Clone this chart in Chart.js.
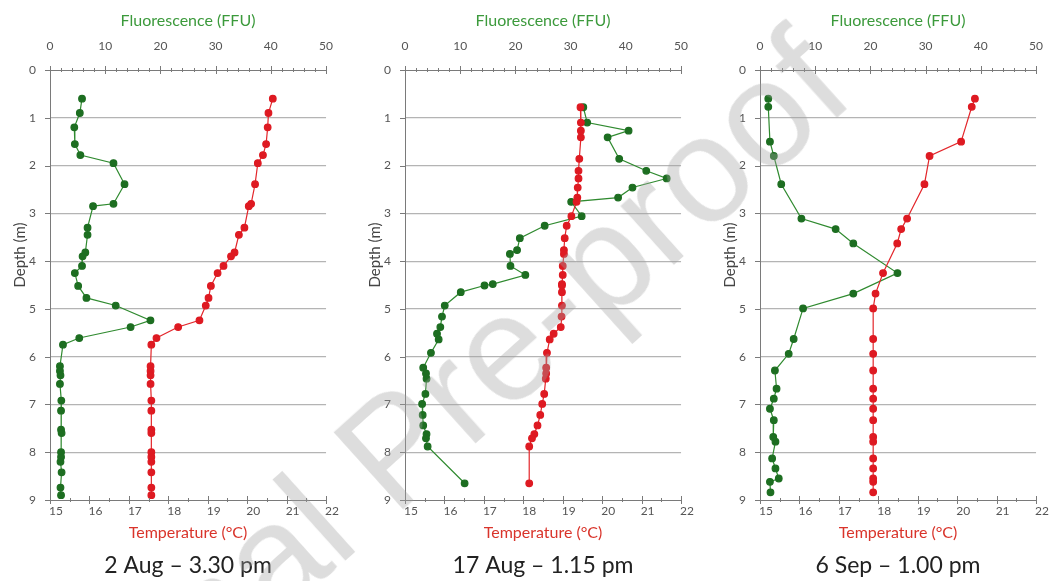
<!DOCTYPE html>
<html><head><meta charset="utf-8">
<script src="https://cdn.jsdelivr.net/npm/chart.js@4.4.1/dist/chart.umd.min.js"></script>
<style>
html,body{margin:0;padding:0;background:#fff;}
#wrap{position:relative;width:1060px;height:581px;overflow:hidden;background:#fff;}
.p{position:absolute;top:0;height:581px;}
#wm{position:absolute;left:-88px;top:780px;font-family:'Liberation Sans',Arial,sans-serif;font-size:150px;line-height:1;
color:rgba(160,160,160,0.36);transform-origin:0 0;transform:rotate(-42deg);white-space:nowrap;pointer-events:none;}
</style></head>
<body><div id="wrap">
<div class="p" style="left:0;width:350px"><canvas id="c1" width="350" height="581"></canvas></div>
<div class="p" style="left:350px;width:355px"><canvas id="c2" width="355" height="581"></canvas></div>
<div class="p" style="left:705px;width:355px"><canvas id="c3" width="355" height="581"></canvas></div>
<div id="wm">Journal Pre-proof</div>
</div>
<script>
// ---- data ----
const depth1 = [0.6,0.9,1.2,1.55,1.78,1.95,2.39,2.8,2.85,3.3,3.45,3.82,3.9,4.1,4.25,4.52,4.77,4.93,5.24,5.38,5.61,5.75,6.2,6.3,6.39,6.57,6.92,7.13,7.53,7.6,8.0,8.1,8.2,8.42,8.74,8.9];
const fluor1 = [5.8,5.4,4.4,4.5,5.5,11.5,13.5,11.5,7.8,6.8,6.8,6.4,5.9,5.8,4.5,5.1,6.6,11.9,18.2,14.6,5.3,2.35,1.8,1.8,1.9,1.8,2.05,2.0,2.0,2.1,2.0,2.0,1.9,2.1,1.9,2.0];
const temp1  = [20.65,20.54,20.52,20.48,20.4,20.27,20.2,20.1,20.04,19.93,19.79,19.68,19.59,19.4,19.25,19.08,19.02,18.95,18.79,18.25,17.7,17.57,17.55,17.55,17.55,17.55,17.57,17.57,17.57,17.57,17.57,17.57,17.57,17.57,17.57,17.57];

const depth2 = [0.78,1.1,1.27,1.41,1.86,2.11,2.27,2.46,2.67,2.76,3.06,3.26,3.52,3.77,3.85,4.1,4.29,4.48,4.51,4.65,4.93,5.16,5.38,5.52,5.64,5.92,6.23,6.35,6.46,6.78,6.99,7.22,7.44,7.62,7.71,7.88,8.65];
const fluor2 = [32.3,33.0,40.5,36.7,38.8,43.7,47.4,41.2,38.6,30.1,32.0,25.3,20.8,20.3,19.0,19.1,21.8,15.9,14.4,10.1,7.2,6.7,6.4,5.8,6.1,4.7,3.3,3.8,3.9,3.7,3.1,3.2,3.3,3.9,3.8,4.1,10.8];
const temp2  = [19.45,19.46,19.46,19.46,19.42,19.4,19.4,19.38,19.37,19.35,19.22,19.1,19.05,19.03,19.03,19.0,19.0,18.98,18.98,18.98,18.98,18.97,18.95,18.77,18.67,18.6,18.58,18.58,18.57,18.53,18.48,18.43,18.36,18.28,18.22,18.15,18.15];

const depth3 = [0.6,0.77,1.5,1.8,2.39,3.11,3.33,3.63,4.25,4.68,4.99,5.63,5.94,6.29,6.67,6.88,7.09,7.33,7.68,7.78,8.13,8.34,8.55,8.62,8.84];
const fluor3 = [1.5,1.5,1.8,2.5,3.85,7.5,13.7,16.9,24.9,16.9,7.8,6.1,5.2,2.7,3.0,2.5,1.8,2.5,2.4,2.8,2.2,2.8,3.4,1.8,1.9];
const temp3  = [20.45,20.37,20.1,19.3,19.17,18.73,18.58,18.48,18.12,17.93,17.87,17.87,17.87,17.87,17.87,17.87,17.87,17.87,17.87,17.87,17.87,17.87,17.87,17.87,17.87];

const fluorTicks = [0,10,20,30,40,50];
const tempTicks  = [15,16,17,18,19,20,21,22];
const depthTicks = [0,1,2,3,4,5,6,7,8,9];
const panelTitles = ['2 Aug \u2013 3.30 pm','17 Aug \u2013 1.15 pm','6 Sep \u2013 1.00 pm'];
const fluorLabel = 'Fluorescence (FFU)';
const tempLabel = 'Temperature (\u00b0C)';
const depthLabel = 'Depth (m)';

// ---- drawing ----
const FONT = "Lato, 'Open Sans', sans-serif";
const GREEN_LINE = '#2f8a2f', GREEN_PT = '#1d6e21';
const RED_LINE = '#e3262b', RED_PT = '#de1a22';
const AXIS = '#7a7a7a';

const decor = {
  id: 'decor',
  afterDraw(chart) {
    const {ctx, chartArea: a, scales} = chart;
    const f = scales.xF, t = scales.xT, y = scales.y;
    ctx.save();
    ctx.strokeStyle = AXIS; ctx.lineWidth = 1;
    ctx.beginPath();
    for (let v = fluorTicks[0]; v <= fluorTicks[fluorTicks.length-1] + 1e-9; v += 2) {
      const x = Math.round(f.getPixelForValue(v)) + 0.5;
      const L = fluorTicks.includes(v) ? 4 : 2;
      ctx.moveTo(x, a.top - L); ctx.lineTo(x, a.top + L);
    }
    for (let v = tempTicks[0]; v <= tempTicks[tempTicks.length-1] + 1e-9; v += 0.5) {
      const x = Math.round(t.getPixelForValue(v)) + 0.5;
      const L = Number.isInteger(v) ? 4 : 2;
      ctx.moveTo(x, a.bottom - L); ctx.lineTo(x, a.bottom + L);
    }
    depthTicks.forEach(v => {
      const yy = Math.round(y.getPixelForValue(v)) + 0.5;
      ctx.moveTo(a.left - 5, yy); ctx.lineTo(a.left, yy);
    });
    ctx.stroke();
    ctx.translate(a.left - 30, a.top + 185);
    ctx.rotate(-Math.PI / 2);
    ctx.textAlign = 'center'; ctx.textBaseline = 'middle';
    ctx.font = '15px ' + FONT; ctx.fillStyle = '#444';
    ctx.fillText(depthLabel, 0, 0);
    ctx.restore();
  }
};

function pts(xs, ys) { return xs.map((v, i) => ({x: v, y: ys[i]})); }

function makePanel(id, depth, fluor, temp, title, yW) {
  new Chart(document.getElementById(id), {
    type: 'line',
    data: {
      datasets: [
        {label: 'Temperature', data: pts(temp, depth), xAxisID: 'xT', yAxisID: 'y',
         borderColor: RED_LINE, backgroundColor: RED_PT, pointBackgroundColor: RED_PT, pointBorderColor: RED_PT,
         borderWidth: 1.2, pointRadius: 3.3, tension: 0, fill: false},
        {label: 'Fluorescence', data: pts(fluor, depth), xAxisID: 'xF', yAxisID: 'y',
         borderColor: GREEN_LINE, backgroundColor: GREEN_PT, pointBackgroundColor: GREEN_PT, pointBorderColor: GREEN_PT,
         borderWidth: 1.2, pointRadius: 3.3, tension: 0, fill: false}
      ]
    },
    options: {
      responsive: false, animation: false,
      layout: {padding: {left: 0, right: 0, top: 0, bottom: 0}},
      plugins: {
        legend: {display: false}, tooltip: {enabled: false},
        title: {display: true, text: title, position: 'bottom', fullSize: false,
                color: '#222', font: {family: FONT, size: 23, weight: 'normal'}, padding: {top: 2.6, bottom: 2}}
      },
      scales: {
        y: {type: 'linear', position: 'left', reverse: true, min: depthTicks[0], max: depthTicks[depthTicks.length-1],
            afterBuildTicks: s => { s.ticks = depthTicks.map(v => ({value: v})); },
            ticks: {padding: 14, color: '#555', font: {family: FONT, size: 12}},
            grid: {drawTicks: false, lineWidth: 1.2,
                   color: c => (c.tick && (c.tick.value === depthTicks[0] || c.tick.value === depthTicks[depthTicks.length-1])) ? 'rgba(0,0,0,0)' : '#b4b4b4'},
            border: {color: AXIS, width: 1},
            afterFit: s => { s.width = yW; }},
        xF: {type: 'linear', position: 'top', min: fluorTicks[0], max: fluorTicks[fluorTicks.length-1],
             afterBuildTicks: s => { s.ticks = fluorTicks.map(v => ({value: v})); },
             ticks: {padding: 17, color: '#555', font: {family: FONT, size: 12}, maxRotation: 0},
             grid: {display: false, drawTicks: false},
             border: {color: AXIS, width: 1},
             title: {display: true, text: fluorLabel, color: '#3c9a3c', font: {family: FONT, size: 16}, padding: {top: 11, bottom: 0}},
             afterFit: s => { s.height = 70; }},
        xT: {type: 'linear', position: 'bottom', min: tempTicks[0], max: tempTicks[tempTicks.length-1],
             afterBuildTicks: s => { s.ticks = tempTicks.map(v => ({value: v})); },
             ticks: {padding: 4, labelOffset: 6, color: '#555', font: {family: FONT, size: 12}, maxRotation: 0},
             grid: {display: false, drawTicks: false},
             border: {color: AXIS, width: 1},
             title: {display: true, text: tempLabel, color: '#d9342b', font: {family: FONT, size: 16}, padding: {top: 0, bottom: 6}},
             afterFit: s => { s.height = 48.8; }}
      }
    },
    plugins: [decor]
  });
}

Chart.defaults.font.family = FONT;
makePanel('c1', depth1, fluor1, temp1, panelTitles[0], 50);
makePanel('c2', depth2, fluor2, temp2, panelTitles[1], 55);
makePanel('c3', depth3, fluor3, temp3, panelTitles[2], 55);
</script>
</body></html>
